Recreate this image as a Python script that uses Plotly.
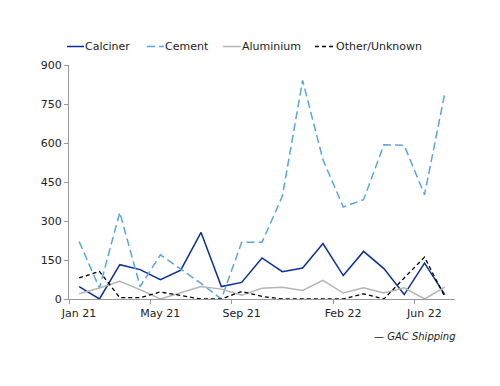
import plotly.graph_objects as go

months = ["Jan 21","Feb 21","Mar 21","Apr 21","May 21","Jun 21","Jul 21","Aug 21","Sep 21",
          "Oct 21","Nov 21","Dec 21","Jan 22","Feb 22","Mar 22","Apr 22","May 22","Jun 22","Jul 22"]
calciner = [48, 0, 132, 113, 74, 111, 256, 48, 64, 158, 105, 119, 213, 90, 183, 117, 17, 138, 17]
cement   = [221, 42, 333, 48, 170, 115, 60, 0, 218, 218, 395, 841, 536, 354, 382, 593, 591, 401, 792]
aluminium = [20, 42, 68, 36, 0, 23, 48, 38, 15, 41, 45, 33, 72, 23, 43, 23, 43, 0, 46]
other    = [81, 106, 5, 5, 27, 13, 0, 0, 29, 10, 0, 0, 0, 0, 20, 0, 81, 161, 8]

series_names = ["Calciner", "Cement", "Aluminium", "Other/Unknown"]
tick_labels = ["Jan 21", "May 21", "Sep 21", "Feb 22", "Jun 22"]
y_ticks = [0, 150, 300, 450, 600, 750, 900]

styles = [
    dict(color="#0B2F9A", width=1.5, dash="solid"),
    dict(color="#5AA5E0", width=1.5, dash="8px,4px"),
    dict(color="#B5B5B5", width=1.5, dash="solid"),
    dict(color="#000000", width=1.3, dash="4px,3px"),
]

idx = list(range(len(months)))
tick_pos = [months.index(m) - 0.5 for m in tick_labels]

OFF = 8  # page body margin
W, H = 500 - OFF, 386 - OFF
L, T = 69 - OFF, 65 - OFF
pw, ph = 386, 234
R, B = W - L - pw, H - T - ph

def px_x(p):
    return (p - OFF - L) / pw

def px_y(p):
    return (T + ph - (p - OFF)) / ph

fig = go.Figure()
for name, vals, st in zip(series_names, [calciner, cement, aluminium, other], styles):
    fig.add_trace(go.Scatter(x=idx, y=vals, name=name, mode="lines", line=st,
                             text=months, showlegend=False))

# legend drawn as line samples + text
leg_line = [(67, 84), (147, 164), (223, 241), (315, 333)]
leg_text = [85, 165, 242, 336]
leg_y = 46.5
shapes = []
annotations = []
for name, st, (a, b), tx in zip(series_names, styles, leg_line, leg_text):
    shapes.append(dict(type="line", xref="paper", yref="paper",
                       x0=px_x(a), x1=px_x(b), y0=px_y(leg_y), y1=px_y(leg_y),
                       line=dict(color=st["color"], width=st["width"], dash=st["dash"])))
    annotations.append(dict(text=name, xref="paper", yref="paper", x=px_x(tx),
                            xanchor="left", y=px_y(leg_y), yanchor="middle",
                            showarrow=False, xshift=-2,
                            font=dict(size=11, color="#222222")))

annotations.append(dict(text="<i>— GAC Shipping</i>", xref="paper", yref="paper",
                        x=px_x(458), xanchor="right", y=px_y(336), yanchor="middle",
                        showarrow=False, font=dict(size=10, color="#222222")))

fig.update_layout(
    width=W, height=H,
    margin=dict(l=L, r=R, t=T, b=B, autoexpand=False),
    plot_bgcolor="white", paper_bgcolor="white",
    font=dict(family="DejaVu Sans", size=11, color="#222222"),
    showlegend=False,
    xaxis=dict(range=[-0.5, len(months) - 0.5], tickmode="array", tickvals=tick_pos,
               ticktext=tick_labels, ticklabelshift=10, ticks="outside", ticklen=4,
               tickcolor="#999999", showline=True, linecolor="#999999", linewidth=1,
               showgrid=False, zeroline=False, automargin=False),
    yaxis=dict(range=[0, 900], tickmode="array", tickvals=y_ticks, ticks="outside",
               ticklen=4, tickcolor="#999999", showline=True, linecolor="#999999",
               linewidth=1, showgrid=False, zeroline=False, automargin=False),
    shapes=shapes,
    annotations=annotations,
)

fig.write_html("out.html")
